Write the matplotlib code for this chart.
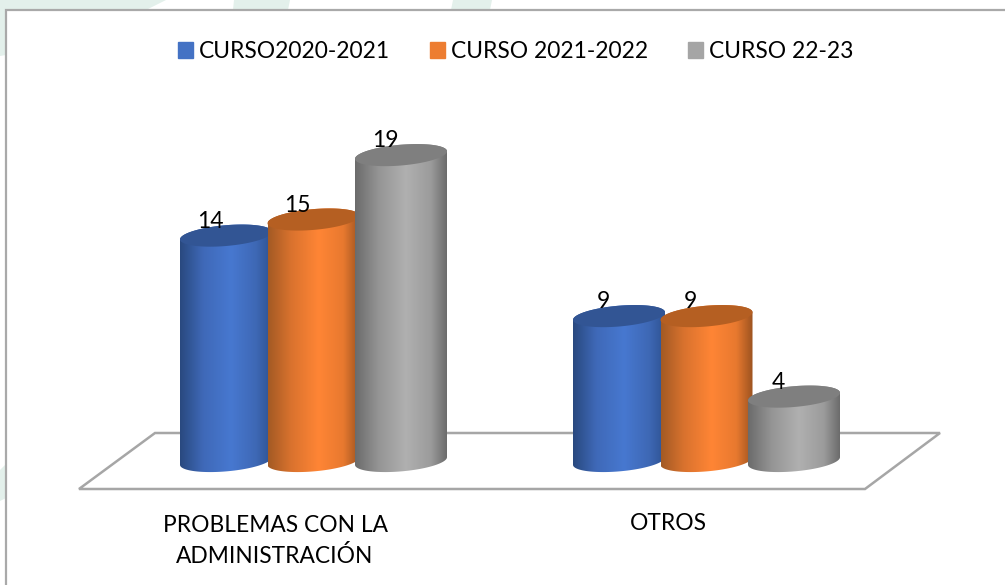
import matplotlib
matplotlib.use("Agg")
import matplotlib.pyplot as plt
import numpy as np
from matplotlib.colors import LinearSegmentedColormap
from matplotlib.patches import Patch, PathPatch, Polygon
from matplotlib.path import Path

categories = ["PROBLEMAS CON LA\nADMINISTRACIÓN", "OTROS"]
series_names = ["CURSO2020-2021", "CURSO 2021-2022", "CURSO 22-23"]
curso_2020 = [14, 9]
curso_2021 = [15, 9]
curso_2022 = [19, 4]

swatch_colors = ["#4472c4", "#ed7d31", "#a5a5a5"]
top_colors = ["#325594", "#b55f22", "#7f7f7f"]
body_colors = [
    ["#29497f", "#3f69b8", "#4778d0", "#3e68b5", "#2d5190"],
    ["#a35a24", "#d9722e", "#ff8535", "#e8792f", "#9c5320"],
    ["#6b6b6b", "#949494", "#b0b0b0", "#9b9b9b", "#686868"],
]
stops = [0, 0.25, 0.55, 0.82, 1]

plt.rcParams["font.family"] = ["Lato", "DejaVu Sans"]
font_size = 16.4
font_px = font_size * 100 / 72

fig = plt.figure(figsize=(10.05, 5.85), dpi=100)

# background and floor are in pixels of the picture
bg = fig.add_axes([0, 0, 1, 1])
bg.set_xlim(0, 1005)
bg.set_ylim(585, 0)
bg.axis("off")
green = "#e3f0eb"
bg.add_patch(Polygon([(0, 0), (166, 0), (146, 10), (6, 10), (6, 55), (0, 56)], color=green, lw=0))
bg.add_patch(Polygon([(234, 0), (290, 0), (288, 10), (233, 10)], color=green, lw=0))
bg.add_patch(Polygon([(453, 0), (492, 0), (490, 10), (451, 10)], color=green, lw=0))
bg.add_patch(Polygon([(0, 470), (6, 464), (6, 498), (0, 501)], color=green, lw=0))
bg.plot([6, 6, 1005], [585, 10, 10], color="#a9a9a9", lw=1.6, solid_joinstyle="miter")
bg.add_patch(Polygon([(79, 489), (155, 433), (940, 433), (865, 489)], closed=True,
                     fc="white", ec="#a6a6a6", lw=1.8))

# chart axes: one x unit is one group, y is the value
px_x = 393
px_y = 16.1
x0 = 313.5
y0 = 461
ax = fig.add_axes([0, 0, 1, 1])
ax.patch.set_alpha(0)
ax.axis("off")

half_w = 46 / px_x
step = 87.5 / px_x
ell_b = 10.4 / px_y
skew = 3.8 / px_y


def cylinder(x, value, cmap, top_color, z):
    t = np.linspace(np.pi, 2 * np.pi, 60)
    # lower half of base ellipse, going left to right
    xb = x + half_w * np.cos(t)
    yb = np.cos(t) * skew + ell_b * np.sin(t)
    t2 = np.linspace(0, np.pi, 60)
    xt = x + half_w * np.cos(t2)
    yt = value + np.cos(t2) * skew + ell_b * np.sin(t2)
    verts = np.vstack([np.column_stack([xb, yb]), np.column_stack([xt, yt])])
    body = PathPatch(Path(np.vstack([verts, verts[0]])), fc="none", ec="none", transform=ax.transData)
    ax.add_patch(body)
    im = ax.imshow(np.linspace(0, 1, 256).reshape(1, -1), cmap=cmap, aspect="auto",
                   extent=[x - half_w, x + half_w, -2, value + 2], zorder=z, interpolation="bilinear")
    im.set_clip_path(body)
    t3 = np.linspace(0, 2 * np.pi, 120)
    ax.fill(x + half_w * np.cos(t3), value + np.cos(t3) * skew + ell_b * np.sin(t3),
            color=top_color, lw=0, zorder=z + 0.1)


series = [curso_2020, curso_2021, curso_2022]
for i, values in enumerate(series):
    cmap = LinearSegmentedColormap.from_list("c%d" % i, list(zip(stops, body_colors[i])))
    for j, v in enumerate(values):
        x = j + (i - 1) * step
        cylinder(x, v, cmap, top_colors[i], 3 + i)
        ax.annotate(str(v), (x, v), xytext=(-16 * 0.72, 14.5 * 0.72), textcoords="offset points",
                    ha="center", va="center", fontsize=font_size, color="black", zorder=10)

for j, name in enumerate(categories):
    label_y = 541 if "\n" in name else 524
    ax.annotate(name, (j, 0), xytext=(-38.5 * 0.72, -(label_y - y0) * 0.72), textcoords="offset points",
                ha="center", va="center", fontsize=font_size, color="black", linespacing=1.55)

ax.set_xlim(-x0 / px_x, (1005 - x0) / px_x)
ax.set_ylim((y0 - 585) / px_y, y0 / px_y)

handles = [Patch(color=c) for c in swatch_colors]
fig.legend(handles, series_names, ncol=3, frameon=False, fontsize=font_size,
           loc="center", bbox_to_anchor=(515.5 / 1005, 1 - 51.5 / 585),
           handlelength=15 / font_px, handleheight=15 / font_px,
           handletextpad=6 / font_px, columnspacing=40 / font_px,
           borderpad=0, labelcolor="black")

fig.savefig("out.png", dpi=100)
